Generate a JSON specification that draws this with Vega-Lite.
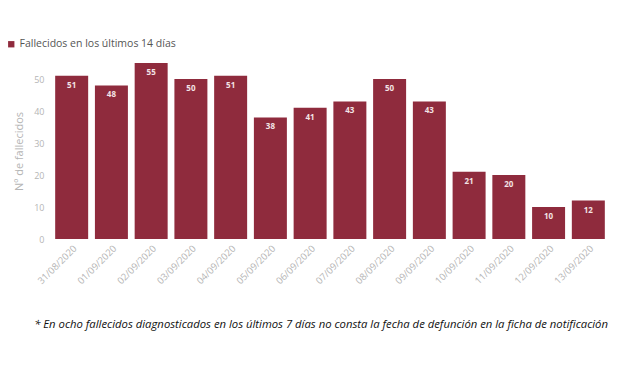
{
  "$schema": "https://vega.github.io/schema/vega-lite/v6.json",
  "width": 556,
  "height": 176,
  "autosize": "none",
  "padding": {"left": 52, "top": 63, "right": 12, "bottom": 129},
  "background": "white",
  "config": {"view": {"stroke": null}, "font": "Open Sans"},
  "title": {
    "text": "* En ocho fallecidos diagnosticados en los últimos 7 días no consta la fecha de defunción en la ficha de notificación",
    "orient": "bottom",
    "anchor": "end",
    "fontSize": 11.3,
    "fontStyle": "italic",
    "fontWeight": "normal",
    "color": "#111111",
    "font": "Open Sans",
    "offset": 34
  },
  "data": {
    "values": [
      {"fecha": "31/08/2020", "fallecidos": 51, "serie": "Fallecidos en los últimos 14 días"},
      {"fecha": "01/09/2020", "fallecidos": 48, "serie": "Fallecidos en los últimos 14 días"},
      {"fecha": "02/09/2020", "fallecidos": 55, "serie": "Fallecidos en los últimos 14 días"},
      {"fecha": "03/09/2020", "fallecidos": 50, "serie": "Fallecidos en los últimos 14 días"},
      {"fecha": "04/09/2020", "fallecidos": 51, "serie": "Fallecidos en los últimos 14 días"},
      {"fecha": "05/09/2020", "fallecidos": 38, "serie": "Fallecidos en los últimos 14 días"},
      {"fecha": "06/09/2020", "fallecidos": 41, "serie": "Fallecidos en los últimos 14 días"},
      {"fecha": "07/09/2020", "fallecidos": 43, "serie": "Fallecidos en los últimos 14 días"},
      {"fecha": "08/09/2020", "fallecidos": 50, "serie": "Fallecidos en los últimos 14 días"},
      {"fecha": "09/09/2020", "fallecidos": 43, "serie": "Fallecidos en los últimos 14 días"},
      {"fecha": "10/09/2020", "fallecidos": 21, "serie": "Fallecidos en los últimos 14 días"},
      {"fecha": "11/09/2020", "fallecidos": 20, "serie": "Fallecidos en los últimos 14 días"},
      {"fecha": "12/09/2020", "fallecidos": 10, "serie": "Fallecidos en los últimos 14 días"},
      {"fecha": "13/09/2020", "fallecidos": 12, "serie": "Fallecidos en los últimos 14 días"}
    ]
  },
  "encoding": {
    "x": {
      "field": "fecha",
      "type": "nominal",
      "sort": null,
      "scale": {"paddingInner": 0.17, "paddingOuter": 0.08},
      "axis": {
        "title": null,
        "labelAngle": -45,
        "labelColor": "#b5b5b5",
        "labelFontSize": 9.5,
        "domain": false,
        "ticks": false,
        "labelPadding": 4
      }
    },
    "y": {
      "field": "fallecidos",
      "type": "quantitative",
      "scale": {"domain": [0, 55], "nice": false},
      "axis": {
        "title": "Nº de fallecidos",
        "titleColor": "#b5b5b5",
        "titleFontSize": 11,
        "titleFontWeight": "normal",
        "titlePadding": 9,
        "values": [0, 10, 20, 30, 40, 50],
        "labelColor": "#b5b5b5",
        "labelFontSize": 9,
        "grid": false,
        "domain": false,
        "ticks": false,
        "labelPadding": 8
      }
    }
  },
  "layer": [
    {
      "mark": {"type": "bar"},
      "encoding": {
        "color": {
          "field": "serie",
          "type": "nominal",
          "scale": {"range": ["#8f2b3d"]},
          "legend": {
            "title": null,
            "orient": "none",
            "legendX": -46,
            "legendY": -24,
            "symbolType": "square",
            "symbolSize": 40,
            "labelFontSize": 10.5,
            "labelColor": "#555555",
            "labelOffset": 3
          }
        }
      }
    },
    {
      "mark": {"type": "text", "baseline": "top", "dy": 6, "color": "#f3e4e6", "fontSize": 8, "fontWeight": "bold"},
      "encoding": {
        "text": {"field": "fallecidos", "type": "quantitative"}
      }
    }
  ]
}
